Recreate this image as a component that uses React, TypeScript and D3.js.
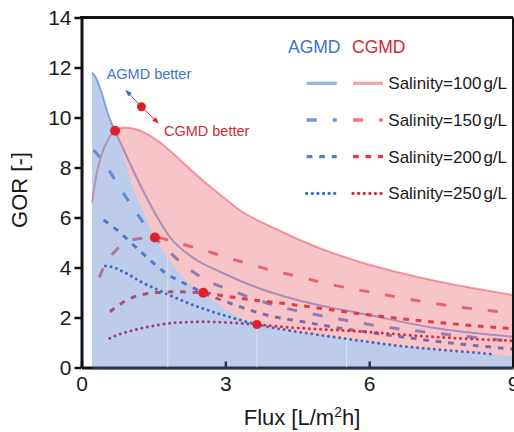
import { useEffect, useRef } from "react";
import * as d3 from "d3";

type Pt = [number, number];

// flux [L/m2h], GOR [-]
const agmd100: Pt[] = [[0.22, 11.8], [0.3, 11.6], [0.42, 11.0], [0.56, 10.1], [0.7, 9.47], [1.0, 8.2], [1.37, 6.75], [1.85, 5.2], [2.4, 4.3], [2.9, 3.82], [3.7, 3.17], [4.5, 2.7], [6.0, 2.1], [7.3, 1.6], [9.0, 1.23]];
const agmd150: Pt[] = [[0.25, 8.7], [0.45, 8.25], [0.7, 7.5], [1.0, 6.6], [1.25, 5.9], [1.53, 5.2], [1.74, 4.8], [2.2, 4.0], [2.6, 3.5], [3.1, 3.1], [4.1, 2.45], [5.2, 2.0], [6.3, 1.63], [7.5, 1.35], [9.0, 1.05]];
const agmd200: Pt[] = [[0.46, 5.9], [0.77, 5.45], [1.11, 4.85], [1.4, 4.35], [1.74, 3.8], [2.16, 3.35], [2.54, 2.99], [3.13, 2.55], [3.86, 2.1], [4.62, 1.83], [5.4, 1.57], [6.4, 1.3], [7.3, 1.07], [8.2, 0.88], [9.0, 0.74]];
const agmd250: Pt[] = [[0.5, 4.06], [0.62, 4.03], [0.9, 3.8], [1.25, 3.42], [1.6, 3.1], [1.95, 2.8], [2.3, 2.52], [2.7, 2.25], [3.2, 1.96], [3.66, 1.72], [4.28, 1.5], [4.97, 1.3], [5.9, 1.05], [6.6, 0.87], [7.3, 0.74], [8.0, 0.63], [8.55, 0.54]];

const cgmd100: Pt[] = [[0.22, 6.6], [0.3, 7.6], [0.4, 8.4], [0.55, 9.1], [0.7, 9.47], [0.9, 9.6], [1.1, 9.55], [1.57, 9.1], [2.0, 8.4], [2.4, 7.7], [2.9, 6.9], [3.3, 6.3], [4.1, 5.5], [5.0, 4.75], [5.9, 4.17], [7.3, 3.5], [9.0, 2.9]];
const cgmd150: Pt[] = [[0.37, 3.6], [0.5, 4.15], [0.7, 4.65], [0.94, 5.02], [1.25, 5.17], [1.53, 5.2], [2.0, 4.98], [2.54, 4.7], [3.0, 4.42], [3.41, 4.19], [3.93, 3.9], [4.48, 3.66], [5.04, 3.39], [5.59, 3.17], [6.16, 2.97], [6.72, 2.77], [7.28, 2.59], [7.83, 2.43], [8.39, 2.3], [9.0, 2.17]];
const cgmd200: Pt[] = [[0.59, 2.23], [0.8, 2.52], [0.98, 2.73], [1.4, 2.96], [1.95, 3.03], [2.54, 2.99], [3.03, 2.85], [3.58, 2.7], [4.28, 2.55], [4.97, 2.37], [5.88, 2.13], [7.28, 1.83], [9.0, 1.55]];
const cgmd250: Pt[] = [[0.59, 1.17], [0.75, 1.3], [1.0, 1.45], [1.25, 1.57], [1.6, 1.7], [1.95, 1.79], [2.64, 1.83], [3.0, 1.8], [3.66, 1.72], [4.28, 1.61], [4.97, 1.53], [5.9, 1.43], [7.28, 1.23], [9.0, 1.07]];

// border between "AGMD better" and "CGMD better"
const crossover: Pt[] = [[0.7, 9.47], [0.8, 8.95], [0.91, 8.25], [1.05, 7.35], [1.25, 6.4], [1.53, 5.2], [1.8, 4.4], [2.16, 3.5], [2.54, 2.99], [2.9, 2.45], [3.25, 2.05], [3.66, 1.72], [4.28, 1.5], [4.97, 1.3], [5.9, 1.05], [6.6, 0.87], [7.3, 0.74], [8.0, 0.63], [8.55, 0.54], [9.0, 0.45]];
const crossPoints: Pt[] = [[0.7, 9.47], [1.53, 5.2], [2.54, 2.99], [3.66, 1.72]];
const seams = [1.8, 3.66, 5.53];

const salinities = [100, 150, 200, 250];
const xTicks = [0, 3, 6, 9];
const yTicks = [0, 2, 4, 6, 8, 10, 12, 14];

const arrowFrom: Pt = [1.25, 10.43];
const arrowToA: Pt = [0.93, 11.08];
const arrowToC: Pt = [1.6, 9.78];

const W = 514;
const H = 432;
const FONT = "'Liberation Sans', Arial, sans-serif";

const agmdColors = ["#93b4e6", "#6f98d8", "#4f80cb", "#3a6cc2"];
const cgmdColors = ["#f5a4a9", "#f07579", "#e63a3c", "#d4263a"];
const dashes = [null, "10,16", "5.7,6.8", "0.01,5.6"];

export default function App() {
  const svgRef = useRef<SVGSVGElement>(null);

  useEffect(() => {
    if (!svgRef.current) return;
    const svg = d3.select(svgRef.current);
    svg.selectAll("*").remove();

    const x = d3.scaleLinear().domain([0, 9]).range([81.5, 513]);
    const y = d3.scaleLinear().domain([0, 14]).range([367.5, 17.5]);

    const defs = svg.append("defs");
    const marker = (id: string, color: string) =>
      defs
        .append("marker")
        .attr("id", id)
        .attr("viewBox", "0 0 8 6")
        .attr("refX", 7)
        .attr("refY", 3)
        .attr("markerWidth", 7)
        .attr("markerHeight", 5)
        .attr("markerUnits", "userSpaceOnUse")
        .attr("orient", "auto")
        .append("path")
        .attr("d", "M0,0 L8,3 L0,6 Z")
        .attr("fill", color);
    marker("arrA", "#3a6cc2");
    marker("arrC", "#d8202e");

    // bottom axis (gets tinted by the fills laid over it)
    const xAxis = svg
      .append("g")
      .attr("transform", `translate(0,${y(0)})`)
      .call(d3.axisBottom(x).tickValues(xTicks).tickSizeInner(-6).tickSizeOuter(0).tickPadding(9));
    xAxis.select(".domain").attr("stroke", "#111").attr("stroke-width", 3);
    xAxis.selectAll(".tick line").attr("stroke", "#111").attr("stroke-width", 2.5);
    xAxis
      .selectAll(".tick text")
      .attr("font-family", FONT)
      .attr("font-size", 21)
      .attr("fill", "#1a1a1a");

    // curves
    const line = d3
      .line<Pt>()
      .x((d) => x(d[0]))
      .y((d) => y(d[1]))
      .curve(d3.curveMonotoneX);

    const agmd = [agmd100, agmd150, agmd200, agmd250];
    const cgmd = [cgmd100, cgmd150, cgmd200, cgmd250];
    const drawSeries = (data: Pt[], color: string, i: number) => {
      const p = svg
        .append("path")
        .datum(data)
        .attr("d", line)
        .attr("fill", "none")
        .attr("stroke", color)
        .attr("stroke-width", i === 0 ? 2 : 3)
        .attr("stroke-linecap", i === 3 ? "round" : "butt");
      if (dashes[i]) p.attr("stroke-dasharray", dashes[i] as string);
    };
    agmd.forEach((d, i) => drawSeries(d, agmdColors[i], i));
    cgmd.forEach((d, i) => drawSeries(d, cgmdColors[i], i));

    // regions
    const blueTop = agmd100.filter((d) => d[0] < 0.7).concat(crossover);
    const blueArea = d3
      .area<Pt>()
      .x((d) => x(d[0]))
      .y0(y(0) + 2)
      .y1((d) => y(d[1]))
      .curve(d3.curveMonotoneX);
    const under = d3
      .area<Pt>()
      .x((d) => x(d[0]))
      .y0(y(0))
      .y1((d) => y(d[1]))
      .curve(d3.curveMonotoneX);

    defs.append("clipPath").attr("id", "blueClip").append("path").attr("d", blueArea(blueTop) as string);

    svg
      .append("path")
      .attr("d", blueArea(blueTop) as string)
      .attr("fill", "#4472c4")
      .attr("fill-opacity", 0.36);

    const pinkTop = cgmd100.filter((d) => d[0] >= 0.7);
    svg
      .append("path")
      .attr("d", (under(pinkTop) as string) + (under(crossover) as string))
      .attr("fill-rule", "evenodd")
      .attr("fill", "#e43c4c")
      .attr("fill-opacity", 0.3);

    svg
      .append("g")
      .attr("clip-path", "url(#blueClip)")
      .selectAll("line")
      .data(seams)
      .join("line")
      .attr("x1", (d) => x(d))
      .attr("x2", (d) => x(d))
      .attr("y1", y(0))
      .attr("y2", y(14))
      .attr("stroke", "#fff")
      .attr("stroke-opacity", 0.45)
      .attr("stroke-width", 1);

    // frame
    svg
      .append("path")
      .attr("d", `M${x(0) - 1.5},${y(14)} H${x(9)}`)
      .attr("stroke", "#111")
      .attr("stroke-width", 3);
    svg
      .append("path")
      .attr("d", `M${x(9)},${y(14)} V${y(0)}`)
      .attr("stroke", "#111")
      .attr("stroke-width", 2);

    const yAxis = svg
      .append("g")
      .attr("transform", `translate(${x(0)},0)`)
      .call(d3.axisLeft(y).tickValues(yTicks).tickSizeInner(7).tickSizeOuter(0).tickPadding(3));
    yAxis.select(".domain").attr("stroke", "#111").attr("stroke-width", 3);
    yAxis.selectAll(".tick line").attr("stroke", "#111").attr("stroke-width", 2.5);
    yAxis
      .selectAll(".tick text")
      .attr("font-family", FONT)
      .attr("font-size", 21)
      .attr("fill", "#1a1a1a");

    // crossover markers
    svg
      .append("g")
      .selectAll("circle")
      .data(crossPoints)
      .join("circle")
      .attr("cx", (d) => x(d[0]))
      .attr("cy", (d) => y(d[1]))
      .attr("r", (d, i) => (i === 3 ? 4.5 : 5))
      .attr("fill", "#e0202a");

    // annotation
    svg
      .append("line")
      .attr("x1", x(arrowFrom[0]))
      .attr("y1", y(arrowFrom[1]))
      .attr("x2", x(arrowToA[0]))
      .attr("y2", y(arrowToA[1]))
      .attr("stroke", "#3a6cc2")
      .attr("stroke-width", 1)
      .attr("marker-end", "url(#arrA)");
    svg
      .append("line")
      .attr("x1", x(arrowFrom[0]))
      .attr("y1", y(arrowFrom[1]))
      .attr("x2", x(arrowToC[0]))
      .attr("y2", y(arrowToC[1]))
      .attr("stroke", "#d8202e")
      .attr("stroke-width", 1)
      .attr("marker-end", "url(#arrC)");
    svg
      .append("circle")
      .attr("cx", x(arrowFrom[0]))
      .attr("cy", y(arrowFrom[1]))
      .attr("r", 4.5)
      .attr("fill", "#dd2026");

    svg
      .append("text")
      .attr("x", x(0.525))
      .attr("y", y(11.56))
      .attr("font-family", FONT)
      .attr("font-size", 14.5)
      .attr("fill", "#3f75c8")
      .text("AGMD better");
    svg
      .append("text")
      .attr("x", x(1.72))
      .attr("y", y(9.26))
      .attr("font-family", FONT)
      .attr("font-size", 14.5)
      .attr("fill", "#d02a33")
      .text("CGMD better");

    // axis titles
    const xt = svg
      .append("text")
      .attr("x", 302)
      .attr("y", 425)
      .attr("text-anchor", "middle")
      .attr("font-family", FONT)
      .attr("font-size", 22)
      .attr("fill", "#1a1a1a");
    xt.append("tspan").text("Flux [L/m");
    xt.append("tspan").attr("font-size", 14).attr("dy", -8).text("2");
    xt.append("tspan").attr("dy", 8).text("h]");

    svg
      .append("text")
      .attr("transform", "translate(27,190) rotate(-90)")
      .attr("text-anchor", "middle")
      .attr("font-family", FONT)
      .attr("font-size", 22)
      .attr("fill", "#1a1a1a")
      .text("GOR [-]");

    // legend
    const lg = svg.append("g").attr("font-family", FONT);
    lg.append("text").attr("x", 288).attr("y", 52.5).attr("font-size", 17.5).attr("fill", "#3f75c8").text("AGMD");
    lg.append("text").attr("x", 352).attr("y", 52.5).attr("font-size", 17.5).attr("fill", "#d02a33").text("CGMD");

    salinities.forEach((s, i) => {
      const ly = 83.3 + i * 36.7;
      const sample = (x1: number, color: string) => {
        const p = lg
          .append("line")
          .attr("x1", x1)
          .attr("x2", x1 + 30)
          .attr("y1", ly)
          .attr("y2", ly)
          .attr("stroke", color)
          .attr("stroke-width", 3.3)
          .attr("stroke-linecap", i === 3 ? "round" : "butt");
        if (dashes[i]) p.attr("stroke-dasharray", dashes[i] as string);
      };
      sample(306.7, agmdColors[i]);
      sample(353, cgmdColors[i]);
      const t = lg
        .append("text")
        .attr("x", 388.3)
        .attr("y", ly + 6)
        .attr("font-size", 17)
        .attr("fill", "#1a1a1a");
      t.append("tspan").text(`Salinity=${s}`);
      t.append("tspan").attr("dx", 2).text("g/L");
    });
  }, []);

  return (
    <svg
      ref={svgRef}
      width={W}
      height={H}
      style={{ position: "absolute", left: 0, top: 0, background: "#fff" }}
    />
  );
}
